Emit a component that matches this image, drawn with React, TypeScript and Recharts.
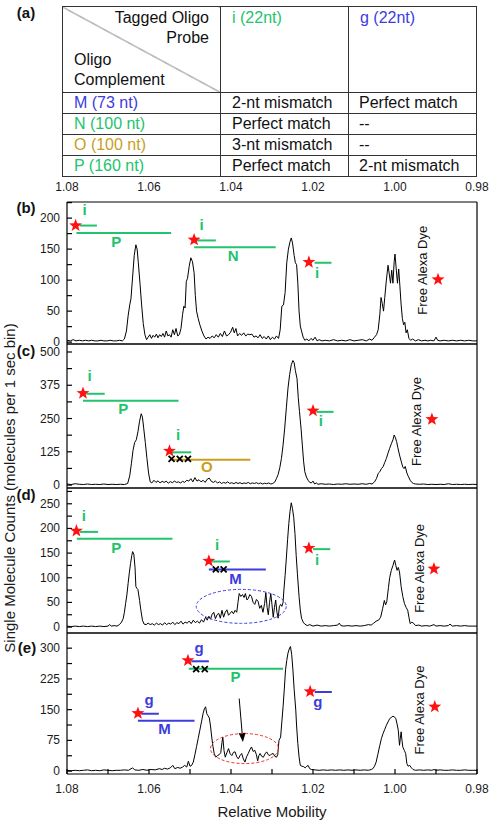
import React from 'react';
import { LineChart, Line, XAxis, YAxis, ReferenceLine, ReferenceDot, Label } from 'recharts';

const FONT = '"Liberation Sans", Arial, Helvetica, sans-serif';
const GREEN = '#21c46d';
const BLUE = '#3c3cde';
const GOLD = '#c99e1e';
const RED = '#ff1111';
const STRAND_COLORS: Record<string, string> = { i: GREEN, g: BLUE, M: BLUE, N: GREEN, O: GOLD, P: GREEN };

// ---------- Table (a) ----------
const probeNames = ['i (22nt)', 'g (22nt)'];
const probeStrands = ['i', 'g'];
const complementNames = ['M (73 nt)', 'N (100 nt)', 'O (100 nt)', 'P (160 nt)'];
const complementStrands = ['M', 'N', 'O', 'P'];
const matchWithI = ['2-nt mismatch', 'Perfect match', '3-nt mismatch', 'Perfect match'];
const matchWithG = ['Perfect match', '--', '--', '2-nt mismatch'];

// ---------- Axes ----------
const mobilityDomain = [0.98, 1.08];
const mobilityTicks = [0.98, 0.99, 1.0, 1.01, 1.02, 1.03, 1.04, 1.05, 1.06, 1.07, 1.08];
const mobilityLabels = [1.08, 1.06, 1.04, 1.02, 1.0, 0.98];

const domainB = [-3, 226];
const countTicksB = [0, 25, 50, 75, 100, 125, 150, 175, 200, 225];
const countLabelsB = [0, 50, 100, 150, 200];
const domainC = [-11, 530];
const countTicksC = [0, 62.5, 125, 187.5, 250, 312.5, 375, 437.5, 500];
const countLabelsC = [0, 125, 250, 375, 500];
const domainD = [-12, 282];
const countTicksD = [0, 25, 50, 75, 100, 125, 150, 175, 200, 225, 250, 275];
const countLabelsD = [0, 50, 100, 150, 200, 250];
const domainE = [-7, 337];
const countTicksE = [0, 37.5, 75, 112.5, 150, 187.5, 225, 262.5, 300];
const countLabelsE = [0, 75, 150, 225, 300];

// ---------- Traces: [relative mobility, counts] ----------
const traceB: [number, number][] = [
  [1.08, 3], [1.0792, 2], [1.0785, 4], [1.0778, 2], [1.077, 3], [1.0762, 2], [1.0755, 3], [1.0747, 2], [1.074, 3], [1.0732, 2],
  [1.0725, 2], [1.0717, 3], [1.071, 2], [1.0702, 2], [1.0695, 3], [1.0687, 2], [1.068, 2], [1.0672, 3], [1.0665, 2], [1.066, 5],
  [1.0655, 18], [1.0651, 42], [1.0647, 60], [1.0644, 70], [1.064, 105], [1.0636, 140], [1.0632, 157], [1.0629, 150], [1.0626, 128],
  [1.0622, 95], [1.0618, 60], [1.0614, 30], [1.061, 12], [1.0606, 4], [1.0602, 8], [1.0598, 12], [1.0594, 6], [1.059, 11], [1.0586, 8],
  [1.0582, 13], [1.0578, 7], [1.0574, 12], [1.057, 9], [1.0566, 14], [1.0562, 8], [1.0558, 18], [1.0554, 10], [1.055, 12], [1.0546, 8],
  [1.0542, 20], [1.0538, 12], [1.0534, 22], [1.053, 10], [1.0526, 12], [1.0522, 22], [1.0518, 45], [1.0515, 58], [1.0512, 55],
  [1.0509, 98], [1.0506, 103], [1.0502, 122], [1.0498, 136], [1.0494, 130], [1.049, 112], [1.0487, 75], [1.0484, 50], [1.048, 38],
  [1.0476, 28], [1.0471, 18], [1.0466, 10], [1.0461, 5], [1.0456, 8], [1.0451, 6], [1.0446, 10], [1.0441, 7], [1.0436, 12], [1.0431, 8],
  [1.0426, 14], [1.0421, 9], [1.0416, 18], [1.0411, 10], [1.0406, 12], [1.0401, 16], [1.0396, 24], [1.0392, 15], [1.0388, 22],
  [1.0384, 10], [1.0379, 14], [1.0374, 11], [1.0369, 15], [1.0364, 10], [1.0359, 13], [1.0354, 12], [1.0349, 13], [1.0344, 8],
  [1.0339, 10], [1.0334, 7], [1.0329, 12], [1.0324, 6], [1.0319, 9], [1.0314, 5], [1.0309, 10], [1.0304, 4], [1.0299, 8], [1.0294, 5],
  [1.0289, 10], [1.0284, 6], [1.028, 20], [1.0276, 58], [1.0272, 60], [1.0268, 80], [1.0264, 128], [1.026, 150], [1.0256, 162],
  [1.0253, 168], [1.025, 160], [1.0246, 140], [1.0243, 128], [1.024, 125], [1.0237, 95], [1.0234, 50], [1.0231, 26], [1.0228, 18],
  [1.0224, 8], [1.022, 3], [1.0215, 5], [1.021, 2], [1.0205, 6], [1.02, 3], [1.0195, 8], [1.019, 2], [1.0185, 4], [1.0178, 2],
  [1.017, 3], [1.016, 2], [1.015, 4], [1.014, 2], [1.013, 3], [1.012, 2], [1.011, 4], [1.01, 2], [1.009, 3], [1.008, 4], [1.007, 2],
  [1.0062, 5], [1.0056, 3], [1.005, 8], [1.0045, 12], [1.0041, 20], [1.0037, 45], [1.0034, 72], [1.0031, 62], [1.0028, 50],
  [1.0025, 72], [1.0021, 100], [1.0017, 124], [1.0014, 110], [1.0011, 95], [1.0008, 116], [1.0005, 95], [1.0002, 130], [1.0, 142],
  [0.9997, 118], [0.9994, 95], [0.9991, 118], [0.9988, 90], [0.9985, 60], [0.9982, 38], [0.9979, 28], [0.9976, 32], [0.9973, 15],
  [0.997, 20], [0.9966, 6], [0.9962, 3], [0.9957, 5], [0.995, 2], [0.9943, 4], [0.9935, 2], [0.9927, 3], [0.992, 2], [0.9913, 3],
  [0.9905, 2], [0.99, 8], [0.9896, 3], [0.989, 2], [0.988, 3], [0.987, 2], [0.986, 3], [0.985, 2], [0.984, 3], [0.983, 2], [0.982, 3],
  [0.981, 2], [0.98, 2],
];

const traceC: [number, number][] = [
  [1.08, 4], [1.079, 2], [1.078, 5], [1.077, 3], [1.076, 2], [1.075, 4], [1.074, 2], [1.073, 3], [1.072, 2], [1.071, 4], [1.07, 2],
  [1.069, 3], [1.068, 2], [1.067, 3], [1.066, 2], [1.0652, 6], [1.0647, 35], [1.0643, 80], [1.0639, 130], [1.0635, 160], [1.0631, 170],
  [1.0627, 200], [1.0623, 240], [1.0619, 268], [1.0616, 255], [1.0613, 215], [1.0609, 160], [1.0605, 100], [1.0601, 45], [1.0597, 12],
  [1.0593, 8], [1.0588, 18], [1.0583, 10], [1.0578, 16], [1.0573, 8], [1.0568, 14], [1.0563, 10], [1.0558, 15], [1.0553, 7], [1.0548, 13],
  [1.0543, 9], [1.0538, 15], [1.0533, 10], [1.0528, 12], [1.0523, 8], [1.0518, 14], [1.0513, 10], [1.0508, 18], [1.0503, 15], [1.0498, 24],
  [1.0493, 12], [1.0488, 28], [1.0483, 15], [1.0478, 20], [1.0473, 12], [1.0468, 18], [1.0463, 10], [1.0458, 22], [1.0453, 26],
  [1.0448, 14], [1.0443, 10], [1.0438, 15], [1.0433, 8], [1.0428, 12], [1.0423, 6], [1.0418, 10], [1.0413, 7], [1.0408, 12], [1.0403, 6],
  [1.0398, 9], [1.0393, 5], [1.0388, 10], [1.0383, 6], [1.0378, 9], [1.0373, 5], [1.0368, 8], [1.0363, 6], [1.0358, 10], [1.0353, 5],
  [1.0348, 8], [1.0343, 6], [1.0338, 9], [1.0333, 5], [1.0328, 8], [1.0323, 4], [1.0318, 7], [1.0313, 5], [1.0308, 8], [1.0303, 4],
  [1.0298, 6], [1.0293, 12], [1.0289, 25], [1.0285, 40], [1.0281, 65], [1.0277, 100], [1.0273, 150], [1.0269, 214], [1.0265, 290],
  [1.0261, 364], [1.0257, 415], [1.0253, 452], [1.0249, 468], [1.0246, 460], [1.0243, 430], [1.0239, 400], [1.0236, 330], [1.0233, 276],
  [1.0229, 210], [1.0226, 150], [1.0223, 90], [1.022, 50], [1.0216, 30], [1.0212, 18], [1.0208, 10], [1.0204, 8], [1.02, 15], [1.0196, 4],
  [1.0192, 8], [1.0188, 3], [1.018, 5], [1.017, 3], [1.016, 4], [1.015, 2], [1.014, 4], [1.013, 3], [1.012, 5], [1.011, 3], [1.01, 4],
  [1.009, 3], [1.008, 5], [1.007, 3], [1.0062, 6], [1.0056, 4], [1.005, 12], [1.0045, 25], [1.0041, 44], [1.0037, 50], [1.0033, 62],
  [1.0029, 69], [1.0025, 85], [1.0021, 100], [1.0017, 120], [1.0013, 138], [1.0009, 155], [1.0005, 170], [1.0002, 188], [0.9999, 178],
  [0.9996, 163], [0.9993, 140], [0.9989, 113], [0.9985, 90], [0.9981, 68], [0.9978, 62], [0.9975, 70], [0.9971, 45], [0.9967, 31],
  [0.9963, 18], [0.9959, 10], [0.9955, 6], [0.995, 4], [0.994, 3], [0.993, 4], [0.992, 2], [0.991, 3], [0.99, 2], [0.989, 3], [0.988, 2],
  [0.987, 5], [0.986, 2], [0.985, 3], [0.984, 2], [0.983, 3], [0.982, 2], [0.981, 3], [0.98, 2],
];

const traceD: [number, number][] = [
  [1.08, 2], [1.079, 1], [1.078, 2], [1.077, 1], [1.076, 2], [1.075, 1], [1.074, 2], [1.073, 1], [1.072, 2], [1.071, 1], [1.07, 2],
  [1.0696, 5], [1.0692, 2], [1.0685, 3], [1.0678, 2], [1.0672, 5], [1.0667, 10], [1.0663, 17], [1.066, 30], [1.0657, 48], [1.0654, 65],
  [1.0651, 88], [1.0648, 110], [1.0645, 129], [1.0642, 145], [1.064, 153], [1.0637, 148], [1.0634, 120], [1.0632, 82], [1.0629, 78],
  [1.0627, 76], [1.0625, 65], [1.0623, 54], [1.062, 35], [1.0616, 14], [1.0612, 6], [1.0607, 5], [1.0602, 8], [1.0597, 5], [1.0592, 7],
  [1.0587, 4], [1.0582, 8], [1.0577, 5], [1.0572, 7], [1.0567, 4], [1.0562, 9], [1.0557, 5], [1.0552, 8], [1.0547, 6], [1.0542, 10],
  [1.0537, 5], [1.0532, 9], [1.0527, 7], [1.0522, 12], [1.0517, 6], [1.0512, 10], [1.0507, 8], [1.0502, 12], [1.0497, 7], [1.0492, 14],
  [1.0487, 9], [1.0482, 12], [1.0477, 8], [1.0472, 15], [1.0467, 10], [1.0462, 20], [1.0458, 14], [1.0454, 22], [1.045, 16], [1.0446, 26],
  [1.0442, 30], [1.0438, 17], [1.0434, 25], [1.043, 28], [1.0426, 18], [1.0422, 34], [1.0418, 20], [1.0414, 30], [1.041, 35], [1.0406, 24],
  [1.0402, 28], [1.0398, 32], [1.0394, 27], [1.039, 34], [1.0386, 30], [1.0383, 50], [1.038, 68], [1.0376, 62], [1.0372, 66], [1.0368, 60],
  [1.0365, 68], [1.0361, 55], [1.0358, 58], [1.0354, 66], [1.035, 62], [1.0346, 50], [1.0342, 46], [1.0338, 56], [1.0334, 52], [1.033, 38],
  [1.0326, 44], [1.0322, 30], [1.0318, 48], [1.0315, 70], [1.0312, 40], [1.0309, 25], [1.0306, 50], [1.0303, 68], [1.03, 45], [1.0297, 20],
  [1.0294, 40], [1.0291, 55], [1.0288, 30], [1.0285, 18], [1.0282, 42], [1.0279, 46], [1.0276, 42], [1.0273, 50], [1.0271, 75],
  [1.0268, 105], [1.0265, 140], [1.0262, 177], [1.0259, 210], [1.0256, 235], [1.0253, 252], [1.025, 240], [1.0247, 222], [1.0244, 190],
  [1.0241, 145], [1.0238, 108], [1.0234, 62], [1.0231, 35], [1.0228, 18], [1.0224, 10], [1.022, 6], [1.0214, 3], [1.0208, 5], [1.02, 2],
  [1.019, 4], [1.018, 2], [1.017, 3], [1.016, 2], [1.015, 3], [1.014, 4], [1.0136, 8], [1.0132, 3], [1.0125, 2], [1.0115, 3], [1.0105, 2],
  [1.0095, 3], [1.0085, 2], [1.0075, 3], [1.0065, 5], [1.0058, 4], [1.0052, 8], [1.0046, 12], [1.004, 14], [1.0035, 20], [1.003, 38],
  [1.0026, 54], [1.0023, 45], [1.002, 52], [1.0016, 80], [1.0013, 100], [1.0009, 115], [1.0005, 125], [1.0001, 136], [0.9998, 125],
  [0.9995, 115], [0.9992, 121], [0.9989, 112], [0.9985, 82], [0.9981, 62], [0.9977, 48], [0.9973, 40], [0.9969, 34], [0.9966, 20],
  [0.9963, 7], [0.9959, 10], [0.9955, 8], [0.995, 3], [0.9942, 4], [0.9935, 2], [0.9925, 3], [0.9915, 2], [0.9905, 5], [0.99, 2],
  [0.989, 3], [0.988, 2], [0.987, 3], [0.9866, 6], [0.986, 2], [0.985, 3], [0.984, 2], [0.983, 3], [0.982, 2], [0.981, 2], [0.98, 2],
];

const traceE: [number, number][] = [
  [1.08, 2], [1.079, 1], [1.078, 2], [1.077, 1], [1.076, 2], [1.075, 3], [1.074, 1], [1.073, 2], [1.072, 1], [1.071, 3], [1.07, 2],
  [1.069, 1], [1.068, 2], [1.067, 2], [1.066, 3], [1.065, 2], [1.064, 8], [1.0635, 3], [1.0625, 2], [1.0615, 4], [1.0605, 2], [1.0595, 4],
  [1.0585, 3], [1.0575, 6], [1.0568, 4], [1.0562, 7], [1.0555, 5], [1.0548, 8], [1.0542, 14], [1.0537, 6], [1.053, 9], [1.0524, 7],
  [1.0518, 10], [1.0513, 14], [1.0508, 10], [1.0504, 24], [1.05, 12], [1.0496, 14], [1.0492, 22], [1.0488, 40], [1.0484, 60], [1.048, 80],
  [1.0476, 100], [1.0472, 120], [1.0468, 141], [1.0465, 152], [1.0462, 157], [1.0459, 140], [1.0456, 135], [1.0453, 130], [1.045, 110],
  [1.0447, 83], [1.0444, 60], [1.0441, 43], [1.0437, 34], [1.0433, 38], [1.0429, 40], [1.0425, 45], [1.0422, 70], [1.042, 83], [1.0417, 50],
  [1.0414, 34], [1.041, 45], [1.0406, 55], [1.0402, 42], [1.0398, 38], [1.0394, 46], [1.039, 47], [1.0386, 35], [1.0382, 30], [1.0378, 38],
  [1.0374, 43], [1.037, 30], [1.0366, 22], [1.0362, 35], [1.0358, 43], [1.0354, 52], [1.035, 59], [1.0346, 48], [1.0342, 51], [1.0338, 40],
  [1.0335, 25], [1.0332, 38], [1.0329, 43], [1.0325, 36], [1.0321, 34], [1.0317, 42], [1.0313, 47], [1.0309, 40], [1.0305, 38],
  [1.0301, 42], [1.0297, 43], [1.0293, 36], [1.0289, 34], [1.0286, 40], [1.0283, 75], [1.0279, 83], [1.0276, 120], [1.0273, 157],
  [1.027, 200], [1.0267, 247], [1.0264, 270], [1.0261, 288], [1.0258, 298], [1.0255, 304], [1.0252, 285], [1.0249, 247], [1.0246, 200],
  [1.0242, 149], [1.024, 110], [1.0237, 67], [1.0234, 35], [1.0231, 14], [1.0227, 12], [1.0223, 11], [1.0219, 8], [1.0215, 12],
  [1.0212, 14], [1.0208, 6], [1.0204, 4], [1.0195, 3], [1.0185, 2], [1.0175, 3], [1.0165, 2], [1.0155, 3], [1.0145, 2], [1.0135, 3],
  [1.0125, 2], [1.0115, 3], [1.0105, 2], [1.0095, 3], [1.0085, 2], [1.0075, 3], [1.0065, 2], [1.0058, 4], [1.0054, 6], [1.005, 12],
  [1.0046, 22], [1.0042, 40], [1.0037, 63], [1.0033, 80], [1.0029, 92], [1.0025, 102], [1.0021, 112], [1.0017, 120], [1.0013, 128],
  [1.0009, 131], [1.0005, 134], [1.0001, 132], [0.9998, 128], [0.9995, 115], [0.9992, 100], [0.9989, 63], [0.9987, 80], [0.9985, 96],
  [0.9983, 75], [0.9981, 59], [0.9977, 50], [0.9974, 43], [0.9971, 18], [0.9968, 12], [0.9964, 14], [0.996, 8], [0.9956, 4], [0.995, 2],
  [0.994, 3], [0.993, 2], [0.992, 3], [0.991, 2], [0.9905, 4], [0.99, 2], [0.989, 3], [0.988, 2], [0.987, 2], [0.986, 3], [0.985, 2],
  [0.984, 2], [0.983, 3], [0.982, 2], [0.981, 2], [0.98, 2],
];

// ---------- Annotations (data coordinates) ----------
const starsB = [{ m: 1.0779, c: 188 }, { m: 1.049, c: 165 }, { m: 1.021, c: 129 }, { m: 0.9895, c: 101 }];
const strandsB = [
  { name: 'i', from: 1.0769, to: 1.0727, c: 188 }, { name: 'P', from: 1.0777, to: 1.0546, c: 176 },
  { name: 'i', from: 1.0485, to: 1.0437, c: 164 }, { name: 'N', from: 1.049, to: 1.0291, c: 153 },
  { name: 'i', from: 1.0196, to: 1.0155, c: 128 },
];
const tagsB = [
  { name: 'i', m: 1.0757, c: 214 }, { name: 'P', m: 1.068, c: 163 }, { name: 'i', m: 1.0472, c: 190 },
  { name: 'N', m: 1.0395, c: 139 }, { name: 'i', m: 1.019, c: 112 },
];
const dyeB = { m: 0.9933, c: 116 };

const starsC = [{ m: 1.0761, c: 345 }, { m: 1.055, c: 128 }, { m: 1.02, c: 279 }, { m: 0.991, c: 247 }];
const strandsC = [
  { name: 'i', from: 1.0753, to: 1.0708, c: 343 }, { name: 'P', from: 1.0761, to: 1.0528, c: 317 },
  { name: 'i', from: 1.0545, to: 1.0497, c: 123 }, { name: 'O', from: 1.0545, to: 1.0353, c: 95 },
  { name: 'i', from: 1.0192, to: 1.015, c: 275 },
];
const tagsC = [
  { name: 'i', m: 1.0745, c: 410 }, { name: 'P', m: 1.0663, c: 287 }, { name: 'i', m: 1.0529, c: 190 },
  { name: 'O', m: 1.0459, c: 68 }, { name: 'i', m: 1.0181, c: 243 },
];
const crossesC = [{ m: 1.0545, c: 98 }, { m: 1.0525, c: 98 }, { m: 1.0505, c: 98 }];
const dyeC = { m: 0.9947, c: 239 };

const starsD = [{ m: 1.0777, c: 195 }, { m: 1.0454, c: 134 }, { m: 1.021, c: 160 }, { m: 0.9905, c: 118 }];
const strandsD = [
  { name: 'i', from: 1.0769, to: 1.0724, c: 193 }, { name: 'P', from: 1.0776, to: 1.0543, c: 179 },
  { name: 'i', from: 1.0446, to: 1.0403, c: 133 }, { name: 'M', from: 1.0454, to: 1.0315, c: 117 },
  { name: 'i', from: 1.02, to: 1.0158, c: 158 },
];
const tagsD = [
  { name: 'i', m: 1.0759, c: 226 }, { name: 'P', m: 1.068, c: 161 }, { name: 'i', m: 1.0434, c: 168 },
  { name: 'M', m: 1.0389, c: 99 }, { name: 'i', m: 1.019, c: 138 },
];
const crossesD = [{ m: 1.0437, c: 117 }, { m: 1.0418, c: 117 }];
const ellipseD = { m: 1.0375, c: 42, name: 'M' };
const dyeD = { m: 0.9941, c: 119 };

const starsE = [{ m: 1.0627, c: 141 }, { m: 1.0505, c: 270 }, { m: 1.0207, c: 194 }, { m: 0.9903, c: 157 }];
const strandsE = [
  { name: 'g', from: 1.0619, to: 1.0576, c: 140 }, { name: 'M', from: 1.0627, to: 1.0489, c: 123 },
  { name: 'g', from: 1.0497, to: 1.0454, c: 268 }, { name: 'P', from: 1.0503, to: 1.0273, c: 250 },
  { name: 'g', from: 1.0196, to: 1.0154, c: 193 },
];
const tagsE = [
  { name: 'g', m: 1.06, c: 174 }, { name: 'M', m: 1.0562, c: 103 }, { name: 'g', m: 1.0478, c: 301 },
  { name: 'P', m: 1.0389, c: 230 }, { name: 'g', m: 1.0188, c: 170 },
];
const crossesE = [{ m: 1.0485, c: 249 }, { m: 1.0464, c: 249 }];
const ellipseE = { m: 1.0367, c: 55, name: 'red' };
const arrowE = { from: { m: 1.038, c: 177 }, to: { m: 1.0371, c: 71 } };
const dyeE = { m: 0.9941, c: 149 };

// ---------- Panel definitions ----------
const panels = [
  { trace: traceB, domain: domainB, ticks: countTicksB, labels: countLabelsB, stars: starsB, strands: strandsB, tags: tagsB, crosses: [], ellipse: null, arrow: null, dye: dyeB },
  { trace: traceC, domain: domainC, ticks: countTicksC, labels: countLabelsC, stars: starsC, strands: strandsC, tags: tagsC, crosses: crossesC, ellipse: null, arrow: null, dye: dyeC },
  { trace: traceD, domain: domainD, ticks: countTicksD, labels: countLabelsD, stars: starsD, strands: strandsD, tags: tagsD, crosses: crossesD, ellipse: ellipseD, arrow: null, dye: dyeD },
  { trace: traceE, domain: domainE, ticks: countTicksE, labels: countLabelsE, stars: starsE, strands: strandsE, tags: tagsE, crosses: crossesE, ellipse: ellipseE, arrow: arrowE, dye: dyeE },
];

// layout (pixels)
const frames = [
  { top: 202, bottom: 344 },
  { top: 344, bottom: 488 },
  { top: 488, bottom: 633 },
  { top: 633, bottom: 774 },
];
const panelLetters = [
  { t: '(a)', x: 26, y: 12 },
  { t: '(b)', x: 26, y: 207 },
  { t: '(c)', x: 26, y: 350 },
  { t: '(d)', x: 26, y: 494 },
  { t: '(e)', x: 27, y: 647 },
];

const ELLIPSE_STYLE: Record<string, any> = {
  M: { stroke: '#3c3cde', rx: 45, ry: 17 },
  red: { stroke: '#ee3030', rx: 34, ry: 15 },
};

const Star = (p: any) => {
  const { cx, cy } = p;
  const R = 6.8, r = 2.8;
  const pts: string[] = [];
  for (let k = 0; k < 10; k++) {
    const a = -Math.PI / 2 + (k * Math.PI) / 5;
    const rad = k % 2 === 0 ? R : r;
    pts.push(`${cx + rad * Math.cos(a)},${cy + rad * Math.sin(a)}`);
  }
  return <polygon points={pts.join(' ')} fill={RED} stroke="none" />;
};

const Cross = (p: any) => {
  const { cx, cy } = p;
  const d = 3;
  return (
    <g stroke="#000" strokeWidth={1.8}>
      <line x1={cx - d} y1={cy - d} x2={cx + d} y2={cy + d} />
      <line x1={cx - d} y1={cy + d} x2={cx + d} y2={cy - d} />
    </g>
  );
};

const Arrow = (p: any) => {
  const { x1, y1, x2, y2 } = p;
  const ang = Math.atan2(y2 - y1, x2 - x1);
  const L = 9, W = 3.5;
  const bx = x2 - L * Math.cos(ang);
  const by = y2 - L * Math.sin(ang);
  const pts = `${x2},${y2} ${bx - W * Math.sin(ang)},${by + W * Math.cos(ang)} ${bx + W * Math.sin(ang)},${by - W * Math.cos(ang)}`;
  return (
    <g>
      <line x1={x1} y1={y1} x2={bx} y2={by} stroke="#000" strokeWidth={1} />
      <polygon points={pts} fill="#000" />
    </g>
  );
};

const near = (a: number, list: number[]) => list.some((v) => Math.abs(v - a) < 1e-6);

const yTick = (labels: number[]) => (p: any) => {
  const v = p.payload.value;
  if (!near(v, labels)) return <g />;
  return (
    <text x={p.x} y={p.y} textAnchor="end" dominantBaseline="central" fontSize={12} fill="#1a1a1a" fontFamily={FONT}>
      {String(v)}
    </text>
  );
};

const xTick = (p: any) => {
  const v = p.payload.value;
  if (!near(v, mobilityLabels)) return <g />;
  return (
    <text x={p.x} y={p.y} textAnchor="middle" dominantBaseline="central" fontSize={12} fill="#1a1a1a" fontFamily={FONT}>
      {v.toFixed(2)}
    </text>
  );
};

function Panel({ p, frame, last }: any) {
  const mt = 12;
  const mb = last ? 48 : 12;
  const h = frame.bottom - frame.top + mt + mb;
  const rows = p.trace.map(([m, c]: [number, number]) => ({ m, c }));
  const ax = { xAxisId: 'x', yAxisId: 'y' };
  return (
    <div style={{ position: 'absolute', left: 0, top: frame.top - mt }}>
      <LineChart width={490} height={h} data={rows} margin={{ top: mt - 1, right: 12, bottom: mb - 1, left: 0 }}>
        <XAxis
          xAxisId="x" dataKey="m" type="number" domain={mobilityDomain} reversed allowDataOverflow
          ticks={mobilityTicks} interval={0} height={1} tickSize={-5} tickMargin={20}
          tick={last ? xTick : false} stroke="#000" strokeWidth={1.2}
        >
          {last ? (
            <Label value="Relative Mobility" position="bottom" offset={31} fontSize={15} fill="#1a1a1a" fontFamily={FONT} />
          ) : null}
        </XAxis>
        <XAxis
          xAxisId="top" orientation="top" dataKey="m" type="number" domain={mobilityDomain} reversed allowDataOverflow
          ticks={mobilityTicks} interval={0} height={1} tickSize={-5} tick={false} stroke="#000" strokeWidth={1.2}
        />
        <YAxis
          yAxisId="y" type="number" domain={p.domain} allowDataOverflow ticks={p.ticks} interval={0}
          width={67} tickSize={-5} tickMargin={12} tick={yTick(p.labels)} stroke="#000" strokeWidth={1.2}
        />
        <YAxis
          yAxisId="r" orientation="right" type="number" domain={p.domain} allowDataOverflow ticks={p.ticks} interval={0}
          width={1} tickSize={-5} tick={false} stroke="#000" strokeWidth={1.2}
        />
        <Line {...ax} dataKey="c" type="linear" stroke="#000" strokeWidth={1} dot={false} activeDot={false} isAnimationActive={false} />
        {p.strands.map((s: any, k: number) => (
          <ReferenceLine key={`s${k}`} {...ax} segment={[{ x: s.from, y: s.c }, { x: s.to, y: s.c }]} stroke={STRAND_COLORS[s.name]} strokeWidth={2} />
        ))}
        {p.arrow ? (
          <ReferenceLine {...ax} segment={[{ x: p.arrow.from.m, y: p.arrow.from.c }, { x: p.arrow.to.m, y: p.arrow.to.c }]} shape={Arrow} />
        ) : null}
        {p.ellipse ? (
          <ReferenceDot
            {...ax} x={p.ellipse.m} y={p.ellipse.c} r={1}
            shape={(q: any) => {
              const st = ELLIPSE_STYLE[p.ellipse.name];
              return <ellipse cx={q.cx} cy={q.cy} rx={st.rx} ry={st.ry} fill="none" stroke={st.stroke} strokeWidth={1} strokeDasharray="3 2" />;
            }}
          />
        ) : null}
        {p.crosses.map((s: any, k: number) => (
          <ReferenceDot key={`x${k}`} {...ax} x={s.m} y={s.c} r={1} shape={Cross} />
        ))}
        {p.stars.map((s: any, k: number) => (
          <ReferenceDot key={`st${k}`} {...ax} x={s.m} y={s.c} r={1} shape={Star} />
        ))}
        {p.tags.map((s: any, k: number) => (
          <ReferenceDot
            key={`t${k}`} {...ax} x={s.m} y={s.c} r={1}
            shape={(q: any) => (
              <text x={q.cx} y={q.cy} textAnchor="middle" dominantBaseline="central" fontSize={15} fontWeight="bold" fill={STRAND_COLORS[s.name]} fontFamily={FONT}>
                {s.name}
              </text>
            )}
          />
        ))}
        <ReferenceDot
          {...ax} x={p.dye.m} y={p.dye.c} r={1}
          shape={(q: any) => (
            <text x={q.cx} y={q.cy} transform={`rotate(-90 ${q.cx} ${q.cy})`} textAnchor="middle" dominantBaseline="central" fontSize={13} fill="#111" fontFamily={FONT}>
              Free Alexa Dye
            </text>
          )}
        />
      </LineChart>
    </div>
  );
}

const cellBorder = '1.5px solid #333';

function TableA() {
  const td: React.CSSProperties = { border: cellBorder, padding: '0 0 0 11px', height: 20, lineHeight: '20px', whiteSpace: 'nowrap', overflow: 'hidden' };
  return (
    <table
      style={{
        position: 'absolute', left: 62, top: 6, width: 414, borderCollapse: 'collapse', tableLayout: 'fixed',
        fontFamily: FONT, fontSize: 16, color: '#111',
      }}
    >
      <colgroup>
        <col style={{ width: 158 }} />
        <col style={{ width: 128 }} />
        <col style={{ width: 128 }} />
      </colgroup>
      <tbody>
        <tr style={{ height: 86 }}>
          <td
            style={{
              border: cellBorder, padding: 0, position: 'relative',
              background: 'linear-gradient(to top right, transparent calc(50% - 0.6px), #444 50%, transparent calc(50% + 0.6px))',
            }}
          >
            <div style={{ position: 'absolute', right: 11, top: 1, textAlign: 'right', lineHeight: '20px' }}>
              Tagged Oligo<br />Probe
            </div>
            <div style={{ position: 'absolute', left: 11, top: 43, lineHeight: '20px' }}>
              Oligo<br />Complement
            </div>
          </td>
          {probeNames.map((n, k) => (
            <td key={n} style={{ ...td, verticalAlign: 'top', paddingTop: 1, color: STRAND_COLORS[probeStrands[k]] }}>
              {n}
            </td>
          ))}
        </tr>
        {complementNames.map((n, k) => (
          <tr key={n}>
            <td style={{ ...td, color: STRAND_COLORS[complementStrands[k]] }}>{n}</td>
            <td style={td}>{matchWithI[k]}</td>
            <td style={{ ...td, paddingLeft: 10 }}>{matchWithG[k]}</td>
          </tr>
        ))}
      </tbody>
    </table>
  );
}

function TableAxis() {
  const rows = mobilityLabels.map((m) => ({ m }));
  return (
    <div style={{ position: 'absolute', left: 0, top: 177 }}>
      <LineChart width={490} height={30} data={rows} margin={{ top: 0, right: 13, bottom: 24, left: 67 }}>
        <XAxis
          dataKey="m" type="number" domain={mobilityDomain} reversed allowDataOverflow ticks={mobilityLabels}
          interval={0} height={1} tickSize={0} tickMargin={5} tickLine={false} axisLine={false} tick={xTick}
        />
      </LineChart>
    </div>
  );
}

export default function App() {
  return (
    <div style={{ position: 'absolute', left: 0, top: 0, width: 490, height: 822, overflow: 'hidden', background: '#fff' }}>
      <TableA />
      <TableAxis />
      {panels.map((p, k) => (
        <Panel key={k} p={p} frame={frames[k]} last={k === panels.length - 1} />
      ))}
      <svg width={490} height={822} style={{ position: 'absolute', left: 0, top: 0, pointerEvents: 'none' }}>
        {panelLetters.map((l) => (
          <text key={l.t} x={l.x} y={l.y} textAnchor="middle" dominantBaseline="central" fontSize={15} fontWeight="bold" fill="#111" fontFamily={FONT}>
            {l.t}
          </text>
        ))}
        <text x={9} y={488} transform="rotate(-90 9 488)" textAnchor="middle" dominantBaseline="central" fontSize={15} fill="#1a1a1a" fontFamily={FONT}>
          Single Molecule Counts (molecules per 1 sec bin)
        </text>
      </svg>
    </div>
  );
}
